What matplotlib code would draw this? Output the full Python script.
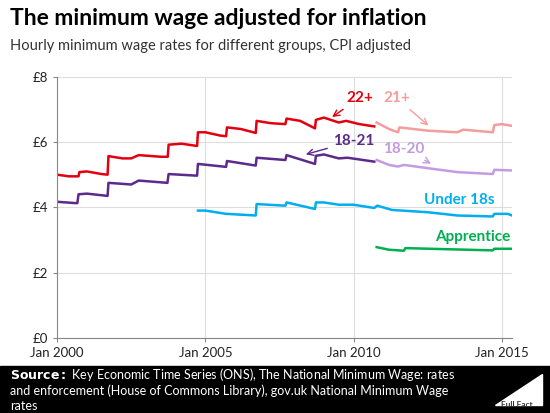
import matplotlib
matplotlib.use("Agg")
import matplotlib.pyplot as plt

plt.rcParams["font.family"] = ["Lato", "DejaVu Sans"]

# years since Jan 2000, value in GBP (CPI adjusted)
t_22 = [0, 0.4, 0.72, 0.75, 1.0, 1.5, 1.7, 1.73, 2.2, 2.5, 2.75, 3.5, 3.73, 3.76, 4.2, 4.72, 4.75,
        5.0, 5.5, 5.7, 5.73, 6.2, 6.7, 6.73, 7.2, 7.7, 7.74, 8.2, 8.7, 8.73, 9.0, 9.5, 9.75, 10.2, 10.7]
v_22 = [5.00, 4.95, 4.95, 5.08, 5.10, 5.02, 5.00, 5.57, 5.50, 5.50, 5.60, 5.55, 5.55, 5.92, 5.95, 5.88, 6.30,
        6.30, 6.20, 6.18, 6.45, 6.40, 6.28, 6.65, 6.58, 6.55, 6.72, 6.65, 6.42, 6.68, 6.75, 6.60, 6.65, 6.55, 6.48]
t_21 = [10.78, 11.2, 11.5, 11.55, 12.5, 13.5, 13.7, 14.7, 14.75, 15.0, 15.35]
v_21 = [6.60, 6.40, 6.30, 6.45, 6.35, 6.30, 6.38, 6.30, 6.52, 6.55, 6.50]
t_1821 = [0, 0.6, 0.68, 0.72, 1.0, 1.7, 1.73, 2.5, 2.75, 3.72, 3.76, 4.72, 4.75, 5.7, 5.73, 6.7, 6.73,
          7.7, 7.74, 8.7, 8.73, 9.0, 9.5, 9.8, 10.7]
v_1821 = [4.17, 4.13, 4.13, 4.40, 4.42, 4.35, 4.75, 4.70, 4.82, 4.75, 5.02, 4.97, 5.33, 5.24, 5.42, 5.28, 5.52,
          5.45, 5.60, 5.33, 5.58, 5.62, 5.50, 5.52, 5.40]
t_1820 = [10.78, 11.2, 11.5, 11.7, 12.5, 13.5, 14.7, 14.75, 15.35]
v_1820 = [5.45, 5.30, 5.25, 5.30, 5.20, 5.08, 5.02, 5.15, 5.13]
t_u18 = [4.75, 5.0, 5.7, 6.7, 6.73, 7.7, 7.74, 8.7, 8.73, 9.0, 9.5, 10.0, 10.7, 10.8, 11.3, 12.5, 13.5,
         14.7, 14.75, 15.2, 15.35]
v_u18 = [3.90, 3.90, 3.80, 3.75, 4.10, 4.05, 4.15, 3.95, 4.15, 4.15, 4.08, 4.08, 3.98, 4.05, 3.92, 3.85, 3.75,
         3.72, 3.80, 3.80, 3.75]
t_app = [10.78, 11.2, 11.7, 11.75, 13.0, 14.7, 14.75, 15.35]
v_app = [2.78, 2.70, 2.67, 2.75, 2.72, 2.68, 2.73, 2.73]

x_ticks = [0, 5, 10, 15]
x_labels = ["Jan 2000", "Jan 2005", "Jan 2010", "Jan 2015"]
y_ticks = [0, 2, 4, 6, 8]
y_labels = ["£0", "£2", "£4", "£6", "£8"]

fig = plt.figure(figsize=(5.5, 4.13), dpi=100)
ax = fig.add_axes([0.104, 0.182, 0.827, 0.632])

series = [
    (t_22, v_22, "#e3000f"), (t_21, v_21, "#f59c9c"),
    (t_1821, v_1821, "#5b2a8c"), (t_1820, v_1820, "#c49be3"),
    (t_u18, v_u18, "#00aeef"), (t_app, v_app, "#00b050"),
]
for t, v, c in series:
    ax.plot(t, v, color=c, lw=1.8)

def label(text, xy, xytext, color, ha="left"):
    arrow = dict(arrowstyle="->", color=color, lw=1) if xy else None
    ax.annotate(text, xy=xy or xytext, xytext=xytext, color=color, fontsize=11,
                fontweight="bold", ha=ha, va="center", arrowprops=arrow)

label("22+", (9.2, 6.72), (9.75, 7.35), "#e3000f")
label("21+", (12.6, 6.45), (11.0, 7.35), "#f59c9c")
label("18-21", (8.3, 5.6), (9.3, 6.03), "#5b2a8c")
label("18-20", (12.7, 5.3), (11.0, 5.78), "#c49be3")
label("Under 18s", None, (14.75, 4.22), "#00aeef", ha="right")
label("Apprentice", None, (15.3, 3.1), "#00b050", ha="right")

ax.set_xlim(0, 15.35)
ax.set_ylim(0, 8)
ax.set_xticks(x_ticks, x_labels)
ax.set_yticks(y_ticks, y_labels)
ax.grid(color="#dddddd", lw=0.8)
ax.set_axisbelow(True)
for s in ["top", "right"]:
    ax.spines[s].set_visible(False)
for s in ["left", "bottom"]:
    ax.spines[s].set_color("#888888")
ax.tick_params(colors="#888888", labelcolor="#222222", labelsize=9.5, length=3)

fig.text(0.018, 0.955, "The minimum wage adjusted for inflation", fontsize=16.5,
         fontweight="bold", va="center")
fig.text(0.018, 0.888, "Hourly minimum wage rates for different groups, CPI adjusted",
         fontsize=10.5, color="#333333", va="center")

fig.patches.append(plt.Rectangle((0, 0), 1, 0.113, transform=fig.transFigure,
                                 color="black", zorder=0))
fig.text(0.018, 0.093, r"$\bf{Source:}$ Key Economic Time Series (ONS), The National Minimum Wage: rates",
         color="white", fontsize=9, va="center")
fig.text(0.018, 0.055, "and enforcement (House of Commons Library), gov.uk National Minimum Wage",
         color="white", fontsize=9, va="center")
fig.text(0.018, 0.017, "rates", color="white", fontsize=9, va="center")
fig.patches.append(plt.Polygon([(0.90, 0.02), (0.985, 0.02), (0.985, 0.095)],
                               transform=fig.transFigure, color="white"))
fig.text(0.94, 0.012, "Full Fact", color="#333333", fontsize=6, fontweight="bold",
         va="bottom", ha="center")

fig.savefig("out.png", dpi=100)
